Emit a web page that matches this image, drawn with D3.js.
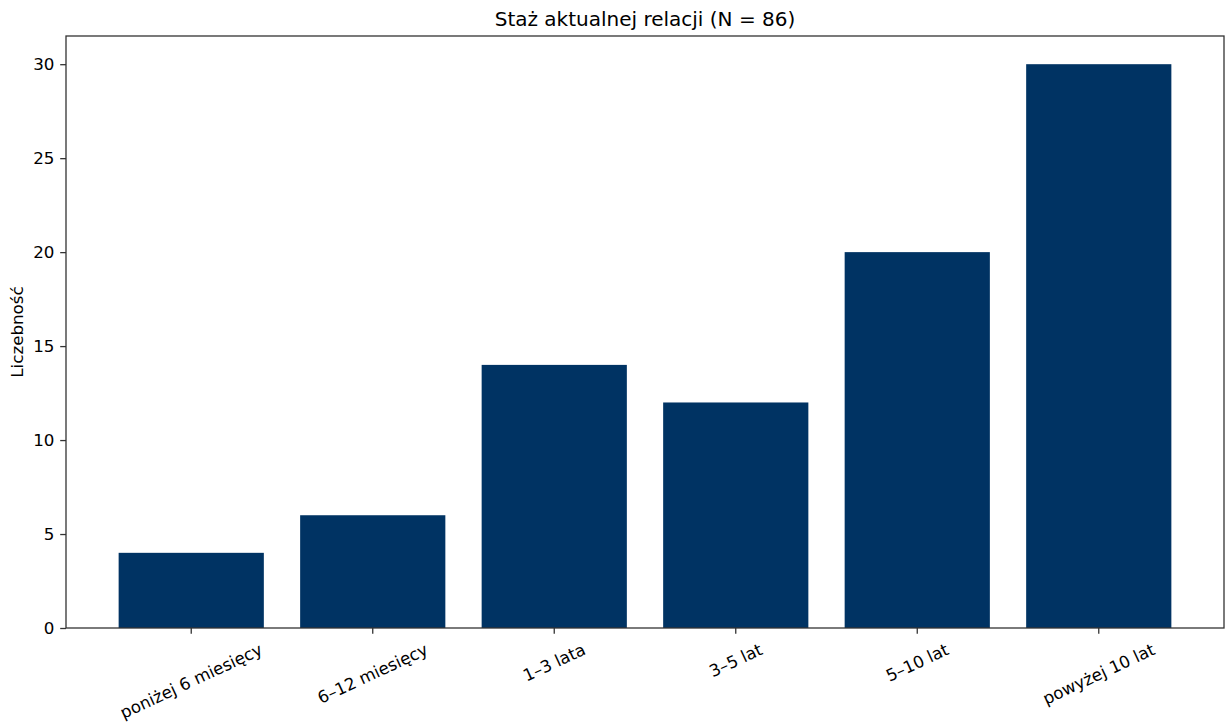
<!DOCTYPE html>
<html>
<head>
<meta charset="utf-8">
<script src="https://cdn.jsdelivr.net/npm/d3@7"></script>
<style>
  html, body { margin: 0; padding: 0; background: #fff; }
  text { font-family: "DejaVu Sans", sans-serif; fill: #000; }
</style>
</head>
<body>
<svg id="chart" width="1225" height="723"></svg>
<script>
const categories = ["poniżej 6 miesięcy", "6–12 miesięcy", "1–3 lata", "3–5 lat", "5–10 lat", "powyżej 10 lat"];
const counts = [4, 6, 14, 12, 20, 30];
const yTicks = [0, 5, 10, 15, 20, 25, 30];
const titleText = "Staż aktualnej relacji (N = 86)";
const yLabelText = "Liczebność";

const W = 1225, H = 723;
const margin = { left: 66, right: 1, top: 36, bottom: 95 };
const plotL = margin.left, plotR = W - margin.right, plotT = margin.top, plotB = H - margin.bottom;

const svg = d3.select("#chart");

const x = d3.scaleBand()
  .domain(categories)
  .range([plotL, plotR])
  .paddingInner(0.2)
  .paddingOuter(0.29);

const y = d3.scaleLinear()
  .domain([0, 31.5])
  .range([plotB, plotT]);

const barColor = "#003363";

// bars
svg.append("g").selectAll("rect")
  .data(categories)
  .join("rect")
  .attr("x", d => x(d))
  .attr("width", x.bandwidth())
  .attr("y", (d, i) => y(counts[i]))
  .attr("height", (d, i) => y(0) - y(counts[i]))
  .attr("fill", barColor);

const tickLen = 5.8, pad = 5.8, fs = 16.7;
const axisColor = "#333";

// y axis
const yAxis = d3.axisLeft(y).tickValues(yTicks).tickSize(tickLen).tickPadding(pad).tickFormat(d3.format("d"));
const gy = svg.append("g").attr("transform", `translate(${plotL},0)`).call(yAxis);
gy.select(".domain").remove();
gy.selectAll("line").attr("stroke", axisColor).attr("stroke-width", 1.3);
gy.selectAll("text").attr("font-size", fs).attr("font-family", "DejaVu Sans").attr("fill", "#111");

// x axis
const xAxis = d3.axisBottom(x).tickSize(tickLen).tickFormat("");
const gx = svg.append("g").attr("transform", `translate(0,${plotB})`).call(xAxis);
gx.select(".domain").remove();
gx.selectAll("line").attr("stroke", axisColor).attr("stroke-width", 1.3);

// rotated x tick labels (rotation 25, ha center, va top)
const rotDeg = 25;
const labelTop = plotB + tickLen + pad;
const ang = rotDeg * Math.PI / 180;
const xl = svg.append("g");
categories.forEach(c => {
  const cx = x(c) + x.bandwidth() / 2;
  const t = xl.append("text")
    .attr("font-size", fs)
    .attr("text-anchor", "middle")
    .attr("fill", "#111")
    .text(c);
  const w = t.node().getComputedTextLength();
  const h = fs * 1.164;
  const bh = w * Math.sin(ang) + h * Math.cos(ang);
  const cy = labelTop + bh / 2;
  t.attr("x", 0).attr("y", fs * 0.346)
   .attr("transform", `translate(${cx},${cy}) rotate(${-rotDeg})`);
});

// frame
svg.append("rect")
  .attr("x", plotL).attr("y", plotT)
  .attr("width", plotR - plotL).attr("height", plotB - plotT)
  .attr("fill", "none").attr("stroke", axisColor).attr("stroke-width", 1.3);

// title
svg.append("text")
  .attr("x", (plotL + plotR) / 2)
  .attr("y", plotT - 10)
  .attr("text-anchor", "middle")
  .attr("font-size", 20)
  .attr("fill", "#111")
  .text(titleText);

// y label
svg.append("text")
  .attr("transform", `translate(${22.5},${(plotT + plotB) / 2}) rotate(-90)`)
  .attr("text-anchor", "middle")
  .attr("font-size", fs)
  .attr("fill", "#111")
  .text(yLabelText);
</script>
</body>
</html>
